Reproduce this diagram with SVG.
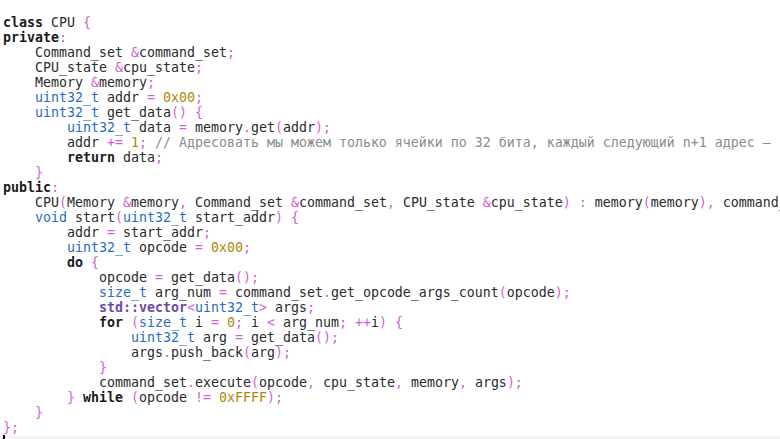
<svg xmlns="http://www.w3.org/2000/svg" width="780" height="439" viewBox="0 0 780 439" xml:space="preserve">
<style>
text{font-family:"DejaVu Sans Mono","Liberation Mono",monospace;font-size:13.29px;fill:#2b2b2b;white-space:pre}
.k{font-weight:bold;fill:#1a1a1a}
.p{fill:#d35ed6}
.t{fill:#2a6dc0}
.n{fill:#b0880a}
.c{fill:#8c8c8c}
.s{font-weight:bold;fill:#6a4ca6}
</style>
<rect x="0" y="0" width="780" height="439" fill="#ffffff"/>
<g id="code" transform="translate(0,1)">
<text x="3" y="26"><tspan class="k">class</tspan> CPU <tspan class="p">{</tspan></text>
<text x="3" y="41"><tspan class="k">private</tspan><tspan class="p">:</tspan></text>
<text x="35" y="56">Command_set <tspan class="p">&amp;</tspan>command_set<tspan class="p">;</tspan></text>
<text x="35" y="71">CPU_state <tspan class="p">&amp;</tspan>cpu_state<tspan class="p">;</tspan></text>
<text x="35" y="86">Memory <tspan class="p">&amp;</tspan>memory<tspan class="p">;</tspan></text>
<text x="35" y="101"><tspan class="t">uint32_t</tspan> addr <tspan class="p">=</tspan> <tspan class="n">0x00</tspan><tspan class="p">;</tspan></text>
<text x="35" y="116"><tspan class="t">uint32_t</tspan> get_data<tspan class="p">()</tspan> <tspan class="p">{</tspan></text>
<text x="67" y="131"><tspan class="t">uint32_t</tspan> data <tspan class="p">=</tspan> memory<tspan class="p">.</tspan>get<tspan class="p">(</tspan>addr<tspan class="p">);</tspan></text>
<text x="67" y="146">addr <tspan class="p">+=</tspan> <tspan class="n">1</tspan><tspan class="p">;</tspan> <tspan class="c">// Адресовать мы можем только ячейки по 32 бита, каждый следующий n+1 адрес –</tspan></text>
<text x="67" y="161"><tspan class="k">return</tspan> data<tspan class="p">;</tspan></text>
<text x="35" y="176"><tspan class="p">}</tspan></text>
<text x="3" y="191"><tspan class="k">public</tspan><tspan class="p">:</tspan></text>
<text x="35" y="206">CPU<tspan class="p">(</tspan>Memory <tspan class="p">&amp;</tspan>memory<tspan class="p">,</tspan> Command_set <tspan class="p">&amp;</tspan>command_set<tspan class="p">,</tspan> CPU_state <tspan class="p">&amp;</tspan>cpu_state<tspan class="p">)</tspan> <tspan class="p">:</tspan> memory<tspan class="p">(</tspan>memory<tspan class="p">),</tspan> command_</text>
<text x="35" y="221"><tspan class="t">void</tspan> start<tspan class="p">(</tspan><tspan class="t">uint32_t</tspan> start_addr<tspan class="p">)</tspan> <tspan class="p">{</tspan></text>
<text x="67" y="236">addr <tspan class="p">=</tspan> start_addr<tspan class="p">;</tspan></text>
<text x="67" y="251"><tspan class="t">uint32_t</tspan> opcode <tspan class="p">=</tspan> <tspan class="n">0x00</tspan><tspan class="p">;</tspan></text>
<text x="67" y="266"><tspan class="k">do</tspan> <tspan class="p">{</tspan></text>
<text x="99" y="281">opcode <tspan class="p">=</tspan> get_data<tspan class="p">();</tspan></text>
<text x="99" y="296"><tspan class="t">size_t</tspan> arg_num <tspan class="p">=</tspan> command_set<tspan class="p">.</tspan>get_opcode_args_count<tspan class="p">(</tspan>opcode<tspan class="p">);</tspan></text>
<text x="99" y="311"><tspan class="s">std::vector</tspan><tspan class="p">&lt;</tspan><tspan class="t">uint32_t</tspan><tspan class="p">&gt;</tspan> args<tspan class="p">;</tspan></text>
<text x="99" y="326"><tspan class="k">for</tspan> <tspan class="p">(</tspan><tspan class="t">size_t</tspan> i <tspan class="p">=</tspan> <tspan class="n">0</tspan><tspan class="p">;</tspan> i <tspan class="p">&lt;</tspan> arg_num<tspan class="p">;</tspan> <tspan class="p">++</tspan>i<tspan class="p">)</tspan> <tspan class="p">{</tspan></text>
<text x="131" y="341"><tspan class="t">uint32_t</tspan> arg <tspan class="p">=</tspan> get_data<tspan class="p">();</tspan></text>
<text x="131" y="356">args<tspan class="p">.</tspan>push_back<tspan class="p">(</tspan>arg<tspan class="p">);</tspan></text>
<text x="99" y="371"><tspan class="p">}</tspan></text>
<text x="99" y="386">command_set<tspan class="p">.</tspan>execute<tspan class="p">(</tspan>opcode<tspan class="p">,</tspan> cpu_state<tspan class="p">,</tspan> memory<tspan class="p">,</tspan> args<tspan class="p">);</tspan></text>
<text x="67" y="401"><tspan class="p">}</tspan> <tspan class="k">while</tspan> <tspan class="p">(</tspan>opcode <tspan class="p">!=</tspan> <tspan class="n">0xFFFF</tspan><tspan class="p">);</tspan></text>
<text x="35" y="416"><tspan class="p">}</tspan></text>
<text x="3" y="431"><tspan class="p">};</tspan></text>
</g>
<rect x="0" y="436" width="780" height="3" fill="#f3f3f3"/>
<rect x="3" y="435" width="2" height="4" fill="#000000"/>
</svg>
